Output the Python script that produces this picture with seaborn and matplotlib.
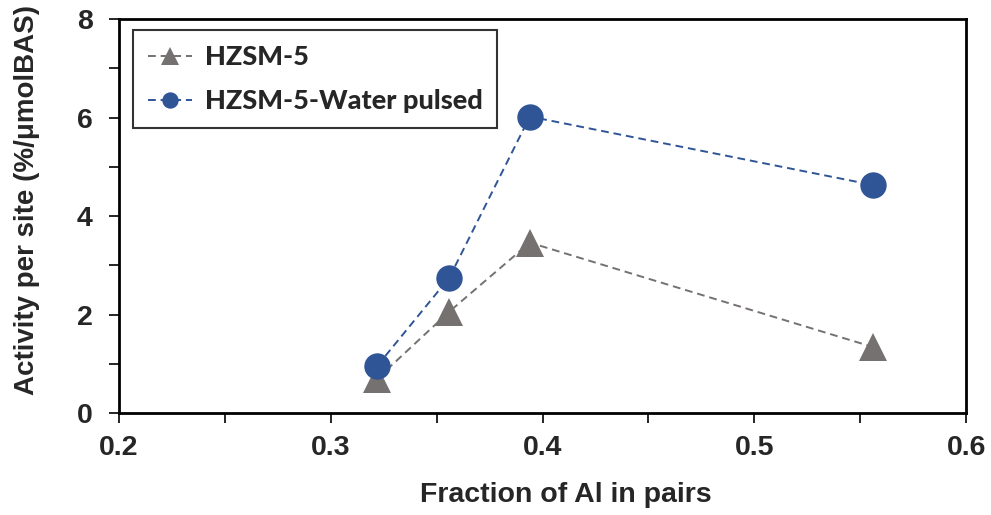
import matplotlib
matplotlib.use("Agg")
import matplotlib.pyplot as plt
from matplotlib.ticker import MultipleLocator
import seaborn as sns
import pandas as pd

fraction_al_pairs = [0.322, 0.356, 0.394, 0.556]
hzsm5 = [0.70, 2.06, 3.46, 1.34]
hzsm5_water = [0.96, 2.75, 6.02, 4.63]
series_names = ["HZSM-5", "HZSM-5-Water pulsed"]
x_ticks = [0.2, 0.3, 0.4, 0.5, 0.6]
x_tick_labels = ["0.2", "0.3", "0.4", "0.5", "0.6"]
y_ticks = [0, 2, 4, 6, 8]
y_tick_labels = ["0", "2", "4", "6", "8"]

df = pd.DataFrame({
    "x": fraction_al_pairs * 2,
    "y": hzsm5 + hzsm5_water,
    "series": [series_names[0]] * 4 + [series_names[1]] * 4,
})

sns.set_style("ticks")
plt.rcParams["font.family"] = ["Liberation Sans", "DejaVu Sans"]

fig = plt.figure(figsize=(9.91, 5.15), dpi=100)
ax = fig.add_axes([0.120, 0.198, 0.855, 0.765])

colors = {series_names[0]: "#767171", series_names[1]: "#2F5597"}
markers = {series_names[0]: "^", series_names[1]: "o"}
sizes = {series_names[0]: 20, series_names[1]: 19}

for name in series_names:
    sub = df[df["series"] == name]
    sns.lineplot(data=sub, x="x", y="y", ax=ax, color=colors[name],
                 marker=markers[name], markersize=sizes[name],
                 markeredgewidth=0, linestyle=(0, (4, 2.5)), linewidth=1.4,
                 label=name, sort=False, zorder=3 if name == series_names[1] else 2)

ax.set_xlim(0.2, 0.6)
ax.set_ylim(0, 8)
ax.set_xticks(x_ticks)
ax.set_xticklabels(x_tick_labels)
ax.set_yticks(y_ticks)
ax.set_yticklabels(y_tick_labels)
ax.xaxis.set_minor_locator(MultipleLocator(0.05))
ax.yaxis.set_minor_locator(MultipleLocator(1))
ax.tick_params(which="both", direction="out", length=7, width=1.2, color="black")
ax.tick_params(which="major", labelsize=20.5)
ax.tick_params(axis="x", which="major", pad=9)
ax.tick_params(axis="y", which="major", pad=12)
for lbl in ax.get_xticklabels() + ax.get_yticklabels():
    lbl.set_fontweight("bold")
for sp in ax.spines.values():
    sp.set_visible(True)
    sp.set_linewidth(2)
    sp.set_color("black")

ax.set_xlabel("Fraction of Al in pairs", fontsize=20.5, fontweight="bold")
ax.set_ylabel("Activity per site (%/μmolBAS)", fontsize=20, fontweight="bold")
ax.xaxis.set_label_coords(0.527, -0.176)
ax.yaxis.set_label_coords(-0.093, 0.54)

leg = ax.legend(loc="upper left", bbox_to_anchor=(0.0165, 0.972), borderaxespad=0,
                frameon=True, fancybox=False, edgecolor="black", handlelength=1.65,
                handletextpad=0.45, labelspacing=0.75, borderpad=0.55,
                markerscale=0.62, prop={"family": "Lato", "weight": 900, "size": 19.5})
leg.get_frame().set_linewidth(1.5)

fig.savefig("out.png", dpi=100)
